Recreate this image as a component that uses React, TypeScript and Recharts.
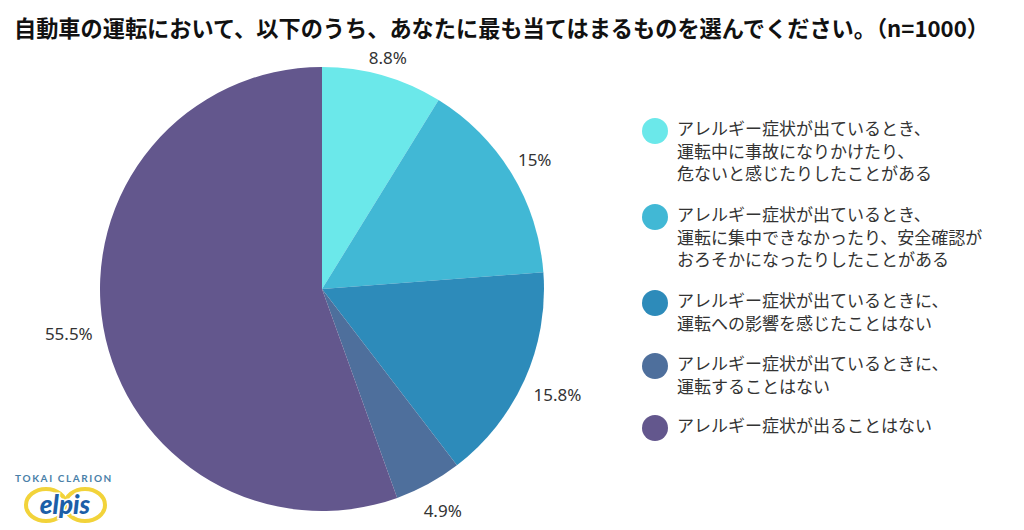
import { PieChart, Pie, Cell } from "recharts"

const categories = [
  ["アレルギー症状が出ているとき、", "運転中に事故になりかけたり、", "危ないと感じたりしたことがある"],
  ["アレルギー症状が出ているとき、", "運転に集中できなかったり、安全確認が", "おろそかになったりしたことがある"],
  ["アレルギー症状が出ているときに、", "運転への影響を感じたことはない"],
  ["アレルギー症状が出ているときに、", "運転することはない"],
  ["アレルギー症状が出ることはない"],
]
const values = [8.8, 15, 15.8, 4.9, 55.5]
const labels = ["8.8%", "15%", "15.8%", "4.9%", "55.5%"]
const colors = ["#6BE8EA", "#41B8D5", "#2D8BBA", "#4E6F9C", "#63578D"]
const legendCenters = [131, 217, 303, 366, 428]
const labelGaps = [19, 27, 36, 30, 35]

const FONT = '"Noto Sans CJK JP", "Noto Sans", sans-serif'
const rows = values.map((v, i) => ({ name: categories[i].join(""), value: v, label: labels[i] }))

const RAD = Math.PI / 180
function renderLabel({ cx, cy, midAngle, outerRadius, index }: any) {
  const r = outerRadius + labelGaps[index]
  const x = cx + r * Math.cos(-midAngle * RAD)
  const y = cy + r * Math.sin(-midAngle * RAD)
  return (
    <text x={x} y={y} textAnchor="middle" dominantBaseline="central" fontSize={17} fill="#333" fontFamily='"Noto Sans", sans-serif'>
      {labels[index]}
    </text>
  )
}

export default function App() {
  return (
    <div style={{ position: "absolute", left: 0, top: 0, width: 1024, height: 530, background: "#fff", overflow: "hidden", fontFamily: FONT }}>
      <div style={{ position: "absolute", left: 14, top: 11, fontSize: 22.2, lineHeight: "32px", fontWeight: 700, color: "#111", whiteSpace: "nowrap" }}>
        自動車の運転において、以下のうち、あなたに最も当てはまるものを選んでください。（n=1000）
      </div>
      <PieChart width={1024} height={530} margin={{ top: 0, right: 0, bottom: 0, left: 0 }} style={{ position: "absolute", left: 0, top: 0 }}>
        <Pie
          data={rows}
          dataKey="value"
          cx={322}
          cy={289}
          outerRadius={222}
          startAngle={90}
          endAngle={-270}
          stroke="none"
          label={renderLabel}
          labelLine={false}
          isAnimationActive={false}
        >
          {rows.map((r, i) => (
            <Cell key={r.name} fill={colors[i]} />
          ))}
        </Pie>
      </PieChart>
      {categories.map((lines, i) => (
        <div key={i}>
          <div style={{ position: "absolute", left: 642, top: legendCenters[i] - 13, width: 26, height: 26, borderRadius: "50%", background: colors[i] }} />
          <div style={{ position: "absolute", left: 677, top: legendCenters[i] - 14, fontSize: 17, lineHeight: "22.5px", color: "#333", whiteSpace: "nowrap" }}>
            {lines.map((l) => (
              <div key={l}>{l}</div>
            ))}
          </div>
        </div>
      ))}
      <div style={{ position: "absolute", left: 12, top: 471, width: 104, textAlign: "center", fontSize: 10, lineHeight: "14px", letterSpacing: 1.6, color: "#4A7FA8", fontFamily: "Lato, sans-serif", fontWeight: 700, whiteSpace: "nowrap" }}>
        TOKAI CLARION
      </div>
      <svg width={90} height={40} style={{ position: "absolute", left: 20, top: 485 }}>
        <ellipse cx={26} cy={20} rx={20} ry={16} fill="none" stroke="#F2D33A" strokeWidth={4} />
        <ellipse cx={65} cy={20} rx={20} ry={16} fill="none" stroke="#F2D33A" strokeWidth={4} />
        <text x={45} y={29} textAnchor="middle" fontSize={26} fontStyle="italic" fontWeight={900} fill="#1C5FA8" fontFamily="Lato, sans-serif" stroke="#fff" strokeWidth={3} paintOrder="stroke">
          elpis
        </text>
      </svg>
    </div>
  )
}
